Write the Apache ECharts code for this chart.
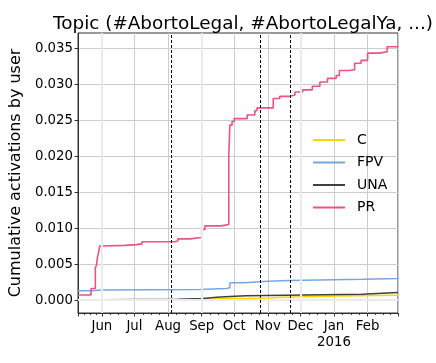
<!DOCTYPE html>
<html>
<head>
<meta charset="utf-8">
<script src="https://cdn.jsdelivr.net/npm/echarts@6/dist/echarts.min.js"></script>
<style>
  html, body { margin: 0; padding: 0; background: #fff; }
  #chart { width: 436px; height: 363px; }
</style>
</head>
<body>
<div id="chart"></div>
<script>
// cumulative activations, step points [date, value]
let cDates = ['2015-05-10', '2015-08-11', '2015-09-02', '2015-09-28', '2015-11-03', '2015-11-14', '2016-01-05', '2016-02-29']
let cValues = [0.0000, 0.0001, 0.0002, 0.0003, 0.0004, 0.00055, 0.00065, 0.0007]

let fpvDates = ['2015-05-10', '2015-05-22', '2015-06-01', '2015-08-30', '2015-09-24', '2015-09-27', '2015-10-10', '2015-11-01', '2015-11-20', '2016-01-28', '2016-02-29']
let fpvValues = [0.0013, 0.0014, 0.00148, 0.0016, 0.0017, 0.0024, 0.0026, 0.0027, 0.0029, 0.0030, 0.0031]

let unaDates = ['2015-05-10', '2015-06-01', '2015-08-10', '2015-09-02', '2015-09-15', '2015-09-27', '2015-10-12', '2016-01-27', '2016-02-29']
let unaValues = [0.00005, 0.0001, 0.0002, 0.0004, 0.0005, 0.0006, 0.0008, 0.00105, 0.00105]

let prDates = ['2015-05-10', '2015-05-22', '2015-05-26', '2015-05-27', '2015-05-28', '2015-05-29', '2015-05-30',
  '2015-06-01', '2015-06-22', '2015-07-03', '2015-07-08', '2015-08-07', '2015-08-10', '2015-08-21',
  '2015-09-01', '2015-09-04', '2015-09-19', '2015-09-26', '2015-09-27', '2015-09-29', '2015-10-01',
  '2015-10-13', '2015-10-20', '2015-10-22', '2015-11-06', '2015-11-12', '2015-11-21', '2015-11-26',
  '2015-12-03', '2015-12-12', '2015-12-19', '2015-12-26', '2016-01-03', '2016-01-06', '2016-01-15',
  '2016-01-20', '2016-01-26', '2016-02-01', '2016-02-12', '2016-02-19', '2016-02-29']
let prValues = [0.0007, 0.0016, 0.0045, 0.0048, 0.0060, 0.0066, 0.0075,
  0.0076, 0.0077, 0.0078, 0.0081, 0.0082, 0.0085, 0.0087,
  0.0098, 0.0103, 0.0105, 0.0200, 0.0243, 0.0248, 0.0252,
  0.0257, 0.0263, 0.0267, 0.0280, 0.0283, 0.0285, 0.0289,
  0.0292, 0.0297, 0.0303, 0.0308, 0.0312, 0.0319, 0.0320,
  0.0329, 0.0333, 0.0343, 0.0345, 0.0352, 0.0353]

let yTicks = [0, 0.005, 0.010, 0.015, 0.020, 0.025, 0.030, 0.035]
let eventDates = ['2015-08-04', '2015-10-25', '2015-11-22']
let quarterDates = ['2015-06-01', '2015-09-01', '2015-12-01']
let monthNames = ['Jan', 'Feb', 'Mar', 'Apr', 'May', 'Jun', 'Jul', 'Aug', 'Sep', 'Oct', 'Nov', 'Dec']

function zip(d, v) {
  return d.map(function (x, i) { return [x, v[i]] })
}

let font = 'DejaVu Sans'
let chart = echarts.init(document.getElementById('chart'), null, { renderer: 'canvas' })

function lineSeries(name, color, dates, values, width) {
  return {
    name: name,
    type: 'line',
    step: 'end',
    showSymbol: false,
    symbol: 'none',
    animation: false,
    z: 3,
    lineStyle: { color: color, width: width },
    itemStyle: { color: color },
    data: zip(dates, values)
  }
}

let option = {
  animation: false,
  textStyle: { fontFamily: font },
  title: {
    text: 'Topic (#AbortoLegal, #AbortoLegalYa, ...)',
    left: 238,
    textAlign: 'center',
    top: 10,
    textStyle: { fontFamily: font, fontSize: 18.4, fontWeight: 'normal', color: '#000' }
  },
  grid: {
    left: 78, right: 38, top: 33, bottom: 50,
    show: true, borderColor: '#333', borderWidth: 1, backgroundColor: 'transparent'
  },
  legend: {
    orient: 'vertical',
    left: 308,
    top: 128,
    itemGap: 8.5,
    itemWidth: 32,
    itemHeight: 2,
    icon: 'rect',
    textStyle: { fontFamily: font, fontSize: 14, color: '#000', padding: [0, 0, 0, 7] },
    data: ['C', 'FPV', 'UNA', 'PR']
  },
  xAxis: {
    type: 'time',
    min: '2015-05-10',
    max: '2016-02-29',
    minInterval: 28 * 86400000,
    maxInterval: 31 * 86400000,
    axisLine: { show: true, onZero: false, lineStyle: { color: '#333', width: 1 } },
    axisTick: { show: true, length: 3.5, lineStyle: { color: '#333' } },
    minorTick: { show: true, splitNumber: 4, length: 2, lineStyle: { color: '#333' } },
    splitLine: { show: true, lineStyle: { color: '#cccccc', width: 1 } },
    axisLabel: {
      fontFamily: font, fontSize: 13.3, color: '#000', margin: 6, lineHeight: 16,
      showMinLabel: false, showMaxLabel: false,
      formatter: function (val) {
        let d = new Date(val)
        if (d.getDate() !== 1) return ''
        let m = monthNames[d.getMonth()]
        return d.getMonth() === 0 ? m + '\n' + d.getFullYear() : m
      }
    }
  },
  yAxis: {
    type: 'value',
    min: -0.0018,
    max: 0.0371,
    minInterval: 0.005,
    maxInterval: 0.005,
    name: 'Cumulative activations by user',
    nameLocation: 'middle',
    nameGap: 38,
    nameTextStyle: { fontFamily: font, fontSize: 16, color: '#000' },
    axisLine: { show: true, lineStyle: { color: '#333' } },
    axisTick: { show: true, length: 3.5, customValues: yTicks, lineStyle: { color: '#333' } },
    splitLine: { show: true, lineStyle: { color: '#cccccc', width: 1 } },
    axisLabel: {
      fontFamily: font, fontSize: 13.3, color: '#000', margin: 5,
      customValues: yTicks,
      formatter: function (v) { return v.toFixed(3) }
    }
  },
  series: [
    {
      name: 'bands',
      type: 'line',
      data: [],
      z: 1,
      silent: true,
      markLine: {
        silent: true,
        symbol: 'none',
        animation: false,
        label: { show: false },
        lineStyle: { color: '#ebebeb', width: 2, type: 'solid' },
        data: quarterDates.map(function (d) { return { xAxis: d } }).concat([{ yAxis: 0 }])
      }
    },
    lineSeries('C', '#ffd700', cDates, cValues, 1.5),
    lineSeries('FPV', '#74a9e0', fpvDates, fpvValues, 1.5),
    lineSeries('UNA', '#404040', unaDates, unaValues, 1.5),
    Object.assign(lineSeries('PR', '#f0508a', prDates, prValues, 1.6), {
      markLine: {
        silent: true,
        symbol: 'none',
        animation: false,
        label: { show: false },
        lineStyle: { color: '#000', width: 1, type: [3, 2] },
        data: eventDates.map(function (d) { return { xAxis: d } })
      }
    })
  ]
}

chart.setOption(option)
</script>
</body>
</html>
